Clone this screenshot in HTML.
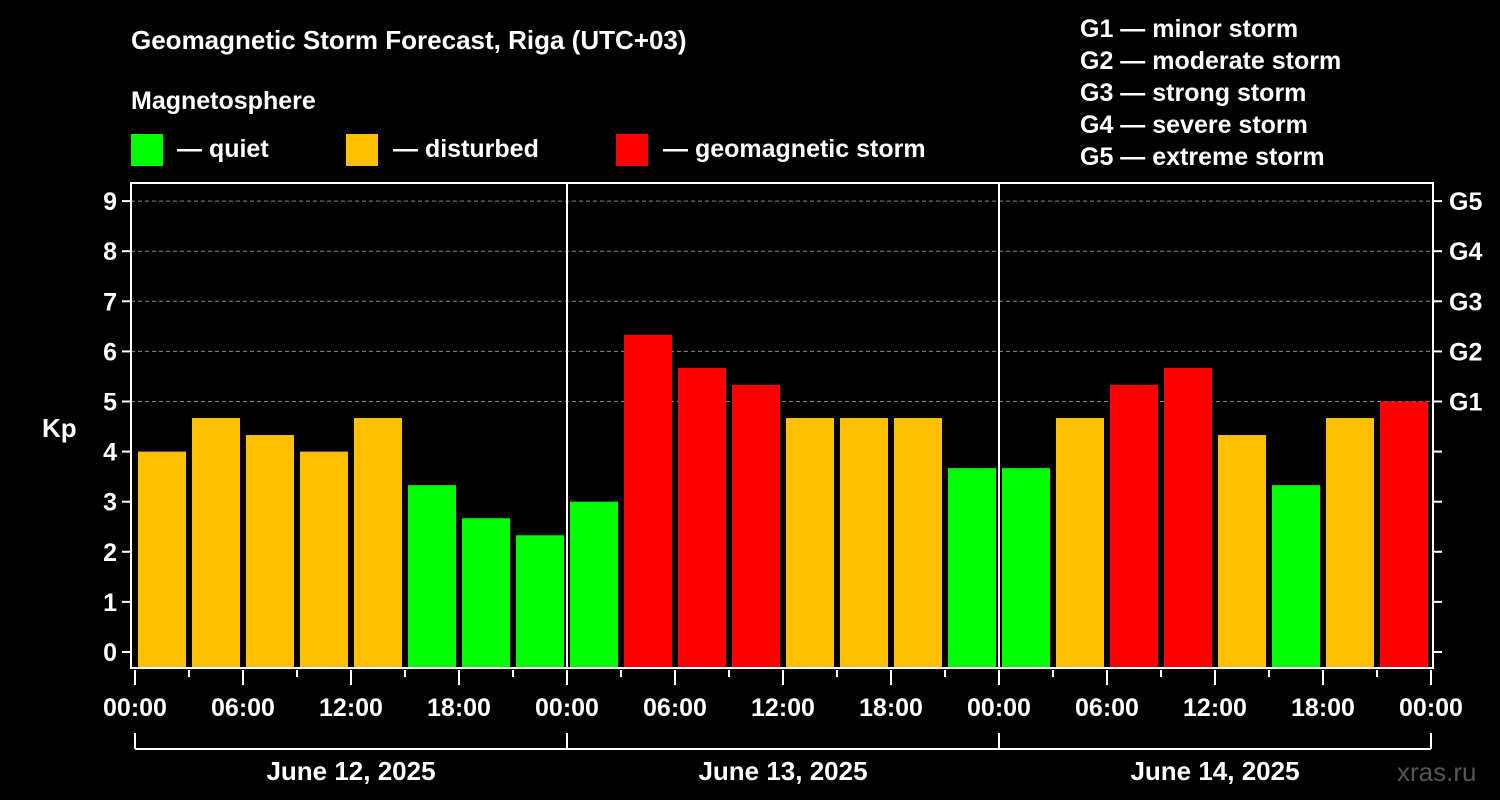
<!DOCTYPE html>
<html><head><meta charset="utf-8">
<style>
html,body{margin:0;padding:0;background:#000;}
svg{display:block;font-family:"Liberation Sans",Arial,sans-serif;font-weight:bold;}
</style></head>
<body>
<svg id="chart" width="1500" height="800" xmlns="http://www.w3.org/2000/svg">
<rect width="1500" height="800" fill="#000"/>
<text x="131" y="49" fill="#fff" font-size="26">Geomagnetic Storm Forecast, Riga (UTC+03)</text>
<text x="131" y="109" fill="#fff" font-size="25">Magnetosphere</text>
<g>
<rect x="131" y="134" width="32" height="32" fill="#00ff00"/>
<text x="177" y="157" fill="#fff" font-size="25">— quiet</text></g>
<g>
<rect x="346" y="134" width="32" height="32" fill="#ffc000"/>
<text x="393" y="157" fill="#fff" font-size="25">— disturbed</text></g>
<g>
<rect x="616" y="134" width="32" height="32" fill="#ff0000"/>
<text x="663" y="157" fill="#fff" font-size="25">— geomagnetic storm</text></g>
<g fill="#fff" font-size="25">
<text x="1080" y="37">G1 — minor storm</text>
<text x="1080" y="69">G2 — moderate storm</text>
<text x="1080" y="101">G3 — strong storm</text>
<text x="1080" y="133">G4 — severe storm</text>
<text x="1080" y="165">G5 — extreme storm</text>
</g>
<text x="42" y="437" fill="#fff" font-size="26">Kp</text>
<g id="grid"></g>
<g id="bars"></g>
<g id="axes"></g>
<text x="1397" y="781" fill="#555" font-size="26" font-weight="normal">xras.ru</text>
</svg>
<script>
const kpValues = [4, 4.67, 4.33, 4, 4.67, 3.33, 2.67, 2.33, 3, 6.33, 5.67, 5.33, 4.67, 4.67, 4.67, 3.67, 3.67, 4.67, 5.33, 5.67, 4.33, 3.33, 4.67, 5];
const yTicks = [0,1,2,3,4,5,6,7,8,9];
const gLabels = ["G1","G2","G3","G4","G5"];
const gLevels = [5,6,7,8,9];
const timeLabels = ["00:00","06:00","12:00","18:00","00:00","06:00","12:00","18:00","00:00","06:00","12:00","18:00","00:00"];
const dayLabels = ["June 12, 2025","June 13, 2025","June 14, 2025"];

const NS="http://www.w3.org/2000/svg";
const X0=135, PX_H=18, Y0=652, PX_K=50.1, TOP=183, BOT=668, LEFT=131, RIGHT=1433;
const xs = h => X0 + h*PX_H;
const ys = v => Y0 - v*PX_K;
function mk(tag, attrs, parent){const e=document.createElementNS(NS,tag);for(const k in attrs)e.setAttribute(k,attrs[k]);parent.appendChild(e);return e;}
const grid=document.getElementById('grid'), bars=document.getElementById('bars'), axes=document.getElementById('axes');
function color(v){return v>=5?"#ff0000":(v>=4?"#ffc000":"#00ff00");}

gLevels.forEach(v=>{
  const l=mk('line',{x1:LEFT,x2:RIGHT,y1:ys(v),y2:ys(v),stroke:"#888","stroke-width":1,"stroke-dasharray":"4,3"},grid);
  
  
});
kpValues.forEach((v,i)=>{
  const x=xs(i*3)+3, w=3*PX_H-6;
  const r=mk('rect',{x:x,y:ys(v),width:w,height:BOT-ys(v),fill:color(v)},bars);
  
  
});
// frame
const fr=mk('rect',{x:LEFT,y:TOP,width:RIGHT-LEFT,height:BOT-TOP,fill:"none",stroke:"#fff","stroke-width":2},axes);


[24,48].forEach(h=>{
  const d=mk('line',{x1:xs(h),x2:xs(h),y1:TOP,y2:BOT,stroke:"#fff","stroke-width":2},axes);
  
  
});
yTicks.forEach(v=>{
  mk('line',{x1:LEFT-9,x2:LEFT,y1:ys(v),y2:ys(v),stroke:"#fff","stroke-width":2},axes);
  mk('line',{x1:RIGHT,x2:RIGHT+9,y1:ys(v),y2:ys(v),stroke:"#fff","stroke-width":2},axes);
  const t=mk('text',{x:LEFT-14,y:ys(v)+9,fill:"#fff","font-size":25,"text-anchor":"end"},axes);
  t.textContent=v;
  
  
});
gLevels.forEach((v,i)=>{
  const t=mk('text',{x:RIGHT+16,y:ys(v)+9,fill:"#fff","font-size":25},axes);
  t.textContent=gLabels[i];
  
  
});
for(let h=0;h<=72;h+=3){
  const major=h%6===0;
  mk('line',{x1:xs(h),x2:xs(h),y1:BOT+2,y2:major?BOT+17:BOT+9,stroke:"#fff","stroke-width":2},axes);
}
timeLabels.forEach((s,i)=>{
  const t=mk('text',{x:xs(i*6),y:716,fill:"#fff","font-size":25,"text-anchor":"middle"},axes);
  t.textContent=s;
  
  
});
mk('line',{x1:xs(0),x2:xs(72),y1:749,y2:749,stroke:"#fff","stroke-width":2},axes);
[0,24,48,72].forEach(h=>mk('line',{x1:xs(h),x2:xs(h),y1:733,y2:749,stroke:"#fff","stroke-width":2},axes));
dayLabels.forEach((s,i)=>{
  const t=mk('text',{x:xs(i*24+12),y:780,fill:"#fff","font-size":26,"text-anchor":"middle"},axes);
  t.textContent=s;
  
  
});
</script>
</body></html>
